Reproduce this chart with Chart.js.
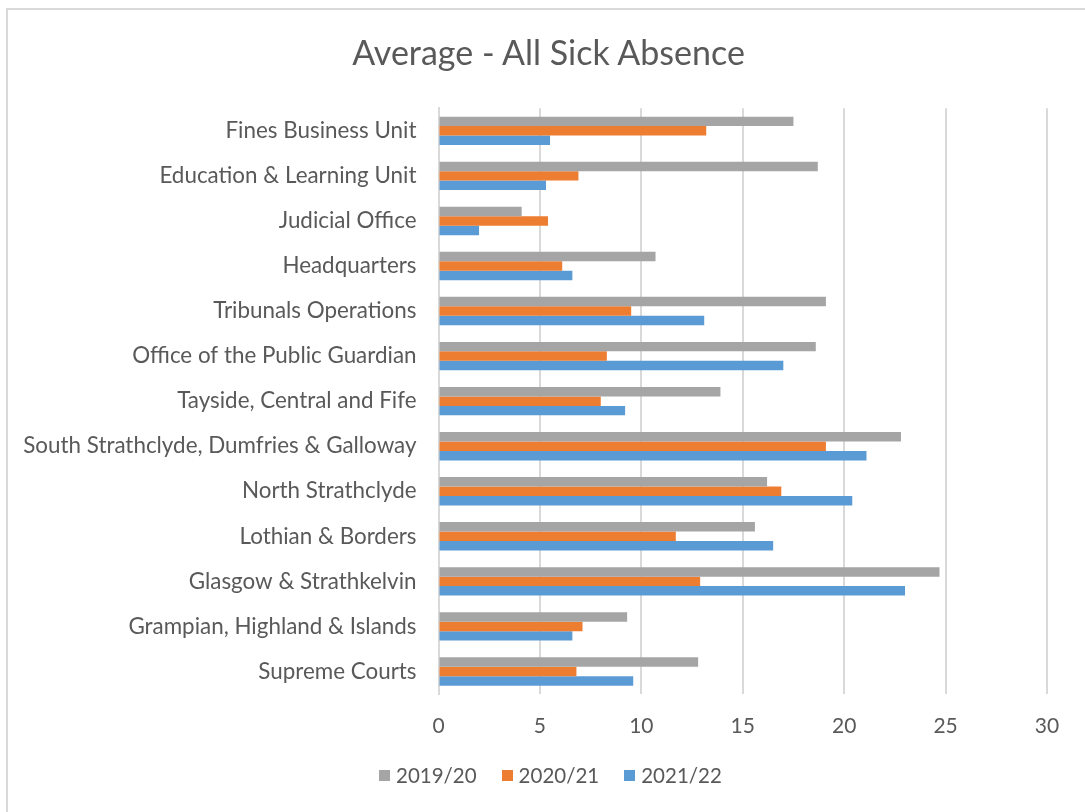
<!DOCTYPE html>
<html>
<head>
<meta charset="utf-8">
<script src="https://cdn.jsdelivr.net/npm/chart.js@4"></script>
<style>
  html, body { margin: 0; padding: 0; background: #fff; }
  #wrap { position: relative; width: 1085px; height: 812px; overflow: hidden;
          font-family: Lato, "Open Sans", sans-serif; color: #595959; }
  #frame { position: absolute; left: 6px; top: 8px; right: -10px; bottom: -10px;
           border-left: 2px solid #d9d9d9; border-top: 2px solid #d9d9d9; }
  #title { position: absolute; left: 0; width: 1097px; top: 32px; text-align: center;
           font-size: 34px; line-height: 40px; }
  #legend { position: absolute; left: 379px; top: 763px; display: flex; align-items: center;
            font-size: 20.5px; line-height: 24px; }
  #legend .item { display: flex; align-items: center; margin-right: 25px; }
  #legend .swatch { width: 11px; height: 11px; margin-right: 6px; }
  canvas { position: absolute; left: 0; top: 0; }
</style>
</head>
<body>
<div id="wrap">
  <div id="frame"></div>
  <canvas id="chart" width="1085" height="812"></canvas>
  <div id="title">Average - All Sick Absence</div>
  <div id="legend"></div>
</div>
<script>
const categories = [
  "Fines Business Unit",
  "Education & Learning Unit",
  "Judicial Office",
  "Headquarters",
  "Tribunals Operations",
  "Office of the Public Guardian",
  "Tayside, Central and Fife",
  "South Strathclyde, Dumfries & Galloway",
  "North Strathclyde",
  "Lothian & Borders",
  "Glasgow & Strathkelvin",
  "Grampian, Highland & Islands",
  "Supreme Courts"
];
const seriesNames = ["2019/20", "2020/21", "2021/22"];
const absence2019 = [17.5, 18.7, 4.1, 10.7, 19.1, 18.6, 13.9, 22.8, 16.2, 15.6, 24.7, 9.3, 12.8];
const absence2020 = [13.2, 6.9, 5.4, 6.1, 9.5, 8.3, 8.0, 19.1, 16.9, 11.7, 12.9, 7.1, 6.8];
const absence2021 = [5.5, 5.3, 2.0, 6.6, 13.1, 17.0, 9.2, 21.1, 20.4, 16.5, 23.0, 6.6, 9.6];
const xTicks = [0, 5, 10, 15, 20, 25, 30];

const colors = ["#a5a5a5", "#ed7d31", "#5b9bd5"];
const fontFamily = 'Lato, "Open Sans", sans-serif';
const textColor = "#595959";

const datasets = [absence2019, absence2020, absence2021].map((vals, i) => ({
  label: seriesNames[i],
  data: vals,
  backgroundColor: colors[i],
  borderWidth: 0,
  categoryPercentage: 0.63,
  barPercentage: 1
}));

const chart = new Chart(document.getElementById("chart"), {
  type: "bar",
  data: { labels: categories, datasets },
  options: {
    indexAxis: "y",
    responsive: false,
    animation: false,
    layout: { padding: { top: 108.3, right: 38, bottom: 78, left: 0 } },
    plugins: {
      legend: { display: false },
      title: { display: false },
      tooltip: { enabled: false }
    },
    scales: {
      x: {
        min: xTicks[0],
        max: xTicks[xTicks.length - 1],
        afterBuildTicks: s => { s.ticks = xTicks.map(v => ({ value: v })); },
        afterFit: s => { s.height = 40; },
        ticks: { color: textColor, font: { family: fontFamily, size: 21 }, padding: 20 },
        grid: { color: "#d9d9d9", lineWidth: 2, drawTicks: false },
        border: { display: false }
      },
      y: {
        afterFit: s => { s.width = 438.5; },
        grid: { display: false, drawTicks: false },
        border: { display: true, color: "#d9d9d9", width: 2 },
        ticks: { color: textColor, font: { family: fontFamily, size: 22.4 }, padding: 22 }
      }
    }
  }
});

// legend entries built from the chart's datasets
const legend = document.getElementById("legend");
chart.data.datasets.forEach(ds => {
  const item = document.createElement("div");
  item.className = "item";
  const sw = document.createElement("span");
  sw.className = "swatch";
  sw.style.background = ds.backgroundColor;
  const txt = document.createElement("span");
  txt.textContent = ds.label;
  item.appendChild(sw);
  item.appendChild(txt);
  legend.appendChild(item);
});
</script>
</body>
</html>
